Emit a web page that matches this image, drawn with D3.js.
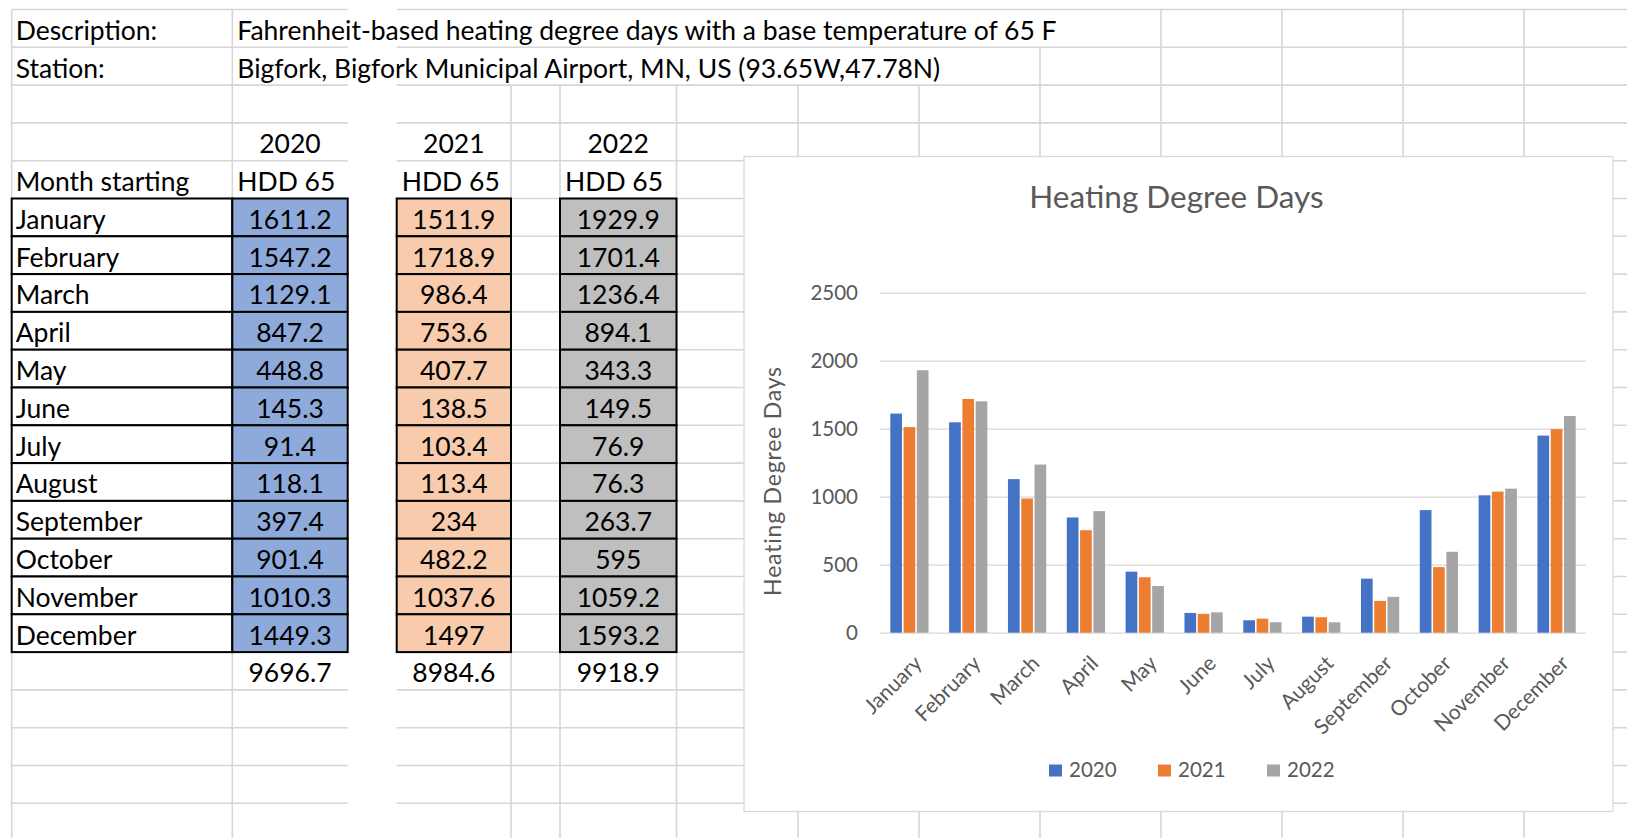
<!DOCTYPE html>
<html>
<head>
<meta charset="utf-8">
<script src="https://cdn.jsdelivr.net/npm/d3@7/dist/d3.min.js"></script>
<style>
body { margin: 0; background: #fff; }
svg { display: block; }
text { font-family: Lato, "Open Sans", sans-serif; }
</style>
</head>
<body>
<script>
var width = 1627,
    height = 838;

// data, as read from the sheet
var months = ["January", "February", "March", "April", "May", "June", "July",
              "August", "September", "October", "November", "December"];
var years = ["2020", "2021", "2022"];
var hdd2020 = [1611.2, 1547.2, 1129.1, 847.2, 448.8, 145.3, 91.4, 118.1, 397.4, 901.4, 1010.3, 1449.3];
var hdd2021 = [1511.9, 1718.9, 986.4, 753.6, 407.7, 138.5, 103.4, 113.4, 234, 482.2, 1037.6, 1497];
var hdd2022 = [1929.9, 1701.4, 1236.4, 894.1, 343.3, 149.5, 76.9, 76.3, 263.7, 595, 1059.2, 1593.2];
var yTicks = [0, 500, 1000, 1500, 2000, 2500];

var descLabel = "Description:",
    descText = "Fahrenheit-based heating degree days with a base temperature of 65 F",
    stationLabel = "Station:",
    stationText = "Bigfork, Bigfork Municipal Airport, MN, US (93.65W,47.78N)",
    colHeader = "HDD 65",
    rowHeader = "Month starting",
    chartTitle = "Heating Degree Days",
    yTitle = "Heating Degree Days";

var series = [hdd2020, hdd2021, hdd2022];
var cellFill = ["#8eaadb", "#f8cbad", "#bfbfbf"];
var barColor = ["#4472c4", "#ed7d31", "#a5a5a5"];

// sheet geometry (zoomed excel grid)
var colX = [11.7, 232.3, 347.7, 396.7, 511, 560, 676.5, 798, 919, 1040, 1161, 1282, 1403, 1524, 1645];
var rowH = 37.8, row0 = 9.5, nRows = 22;
var yearCol = [1, 3, 5];       // B, D, F
var gapCol = 2;                // white column between 2020 and 2021
var fs = 26.5;
function rowY(k) { return row0 + k * rowH; }
function base(k) { return rowY(k + 1) - 7.5; }

var svg = d3.select("body").append("svg")
    .attr("width", width)
    .attr("height", height);

svg.append("rect").attr("width", width).attr("height", height).attr("fill", "#fff");

var grid = svg.append("g").attr("stroke", "#d6d6d6").attr("stroke-width", 1.6);
var cells = svg.append("g").attr("font-size", fs).attr("fill", "#000");

// text first, so we know where it spills over the gridlines
cells.append("text").attr("x", colX[0] + 4).attr("y", base(0)).text(descLabel);
var desc = cells.append("text").attr("x", colX[1] + 5).attr("y", base(0)).text(descText);
cells.append("text").attr("x", colX[0] + 4).attr("y", base(1)).text(stationLabel);
var stat = cells.append("text").attr("x", colX[1] + 5).attr("y", base(1)).text(stationText);

var spill = [
    colX[1] + 5 + desc.node().getComputedTextLength(),
    colX[1] + 5 + stat.node().getComputedTextLength()
];

// horizontal gridlines (column C is white filled)
for (var k = 0; k <= nRows; k++) {
    grid.append("line").attr("x1", colX[0]).attr("x2", colX[gapCol]).attr("y1", rowY(k)).attr("y2", rowY(k));
    grid.append("line").attr("x1", colX[gapCol + 1]).attr("x2", width).attr("y1", rowY(k)).attr("y2", rowY(k));
}
// vertical gridlines
colX.forEach(function(x, i) {
    if (i == gapCol || i == gapCol + 1) return;
    for (var r = 0; r < nRows; r++) {
        if (r < 2 && x > colX[1] + 1 && x < spill[r] + 8) continue;
        grid.append("line").attr("x1", x).attr("x2", x).attr("y1", rowY(r)).attr("y2", rowY(r + 1));
    }
});

// header rows
yearCol.forEach(function(c, i) {
    cells.append("text")
        .attr("x", (colX[c] + colX[c + 1]) / 2).attr("y", base(3))
        .attr("text-anchor", "middle").text(years[i]);
    cells.append("text")
        .attr("x", colX[c] + 5).attr("y", base(4)).text(colHeader);
});
cells.append("text").attr("x", colX[0] + 4).attr("y", base(4)).text(rowHeader);

// table body
var body = svg.append("g");
months.forEach(function(m, j) {
    var r = 5 + j;
    body.append("rect")
        .attr("x", colX[0]).attr("y", rowY(r))
        .attr("width", colX[1] - colX[0]).attr("height", rowH)
        .attr("fill", "#fff").attr("stroke", "#000").attr("stroke-width", 2);
    body.append("text").attr("x", colX[0] + 4).attr("y", base(r))
        .attr("font-size", fs).text(m);
    yearCol.forEach(function(c, i) {
        body.append("rect")
            .attr("x", colX[c]).attr("y", rowY(r))
            .attr("width", colX[c + 1] - colX[c]).attr("height", rowH)
            .attr("fill", cellFill[i]).attr("stroke", "#000").attr("stroke-width", 2);
        body.append("text")
            .attr("x", (colX[c] + colX[c + 1]) / 2).attr("y", base(r))
            .attr("text-anchor", "middle").attr("font-size", fs)
            .text(String(series[i][j]));
    });
});
// totals
yearCol.forEach(function(c, i) {
    body.append("text")
        .attr("x", (colX[c] + colX[c + 1]) / 2).attr("y", base(17))
        .attr("text-anchor", "middle").attr("font-size", fs)
        .text(d3.format(".1f")(d3.sum(series[i])));
});

// ---- chart ----
var box = { x: 744, y: 156.5, w: 869, h: 655 };
var plot = { left: 880, right: 1586, top: 292.7, bottom: 632.7 };
var ink = "#595959";

var chart = svg.append("g");
chart.append("rect")
    .attr("x", box.x).attr("y", box.y).attr("width", box.w).attr("height", box.h)
    .attr("fill", "#fff").attr("stroke", "#d9d9d9").attr("stroke-width", 1.3);

chart.append("text")
    .attr("x", box.x + box.w / 2 - 2).attr("y", 208)
    .attr("text-anchor", "middle").attr("font-size", 31.5)
    .attr("fill", ink).text(chartTitle);

var y = d3.scaleLinear().domain([0, 2500]).range([plot.bottom, plot.top]);
var x0 = d3.scaleBand().domain(months).range([plot.left, plot.right])
    .paddingInner(0.35).paddingOuter(0.175);
var x1 = d3.scaleBand().domain(years).range([0, x0.bandwidth()]).paddingInner(0.12);

var yAxis = chart.append("g")
    .attr("transform", "translate(" + plot.left + ",0)")
    .call(d3.axisLeft(y).tickValues(yTicks).tickFormat(d3.format("d"))
        .tickSize(-(plot.right - plot.left)).tickPadding(22));
yAxis.select(".domain").remove();
yAxis.selectAll(".tick line").attr("stroke", "#d9d9d9").attr("stroke-width", 1.3);
yAxis.selectAll(".tick text").attr("fill", ink).attr("font-size", 20.5)
    .style("font-family", "Lato, 'Open Sans', sans-serif");

chart.append("text")
    .attr("transform", "translate(781," + (box.y + box.h / 2 - 3) + ") rotate(-90)")
    .attr("text-anchor", "middle").attr("font-size", 23).attr("fill", ink)
    .attr("letter-spacing", 0.8)
    .text(yTitle);

var groups = chart.selectAll("g.month")
    .data(months)
    .enter().append("g")
    .attr("class", "month")
    .attr("transform", function(d) { return "translate(" + x0(d) + ",0)"; });

groups.selectAll("rect")
    .data(function(d, j) { return years.map(function(yr, i) { return { yr: yr, i: i, v: series[i][j] }; }); })
    .enter().append("rect")
    .attr("x", function(d) { return x1(d.yr); })
    .attr("y", function(d) { return y(d.v); })
    .attr("width", x1.bandwidth())
    .attr("height", function(d) { return y(0) - y(d.v); })
    .attr("fill", function(d) { return barColor[d.i]; });

// rotated month labels
chart.selectAll("text.mlab")
    .data(months)
    .enter().append("text")
    .attr("class", "mlab")
    .attr("transform", function(d) {
        return "translate(" + (x0(d) + x0.bandwidth() / 2 + 3) + ",654) rotate(-45)";
    })
    .attr("text-anchor", "end").attr("dy", "0.72em")
    .attr("font-size", 21).attr("fill", ink)
    .text(function(d) { return d; });

// legend
var legend = chart.selectAll("g.leg")
    .data(years)
    .enter().append("g")
    .attr("class", "leg")
    .attr("transform", function(d, i) { return "translate(" + (1049 + i * 109) + ",764.5)"; });
legend.append("rect").attr("width", 13).attr("height", 12)
    .attr("fill", function(d, i) { return barColor[i]; });
legend.append("text").attr("x", 20).attr("y", 12.5)
    .attr("font-size", 20.5).attr("fill", ink)
    .text(function(d) { return d; });
</script>
</body>
</html>
